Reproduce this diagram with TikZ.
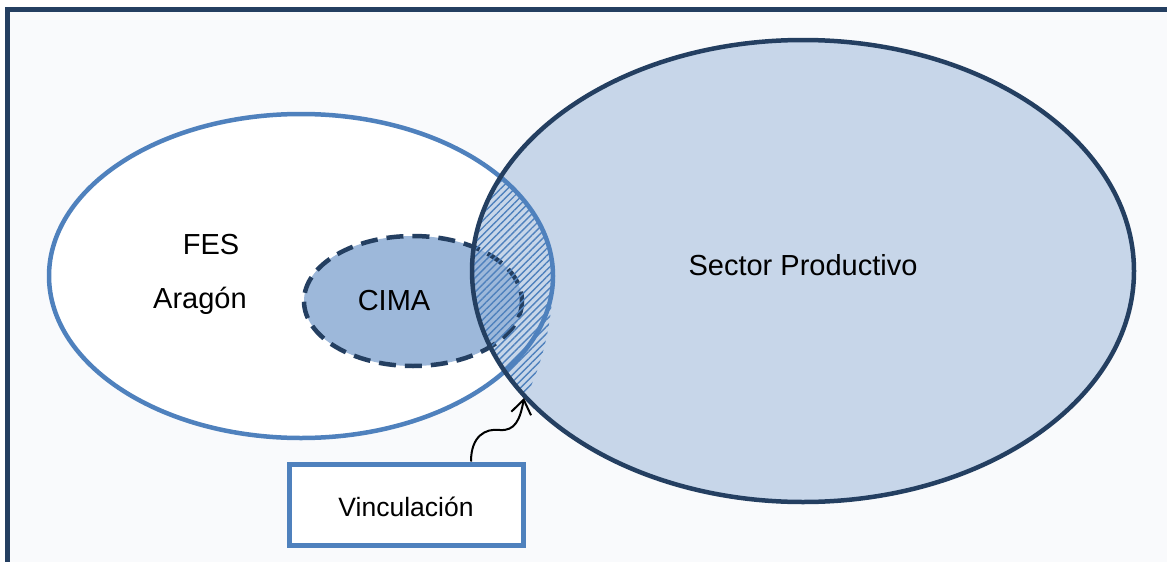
\documentclass[tikz,border=0pt]{standalone}
\usepackage{fontspec}
\setmainfont{Liberation Sans}
\usetikzlibrary{arrows.meta,patterns.meta}
\definecolor{darkc}{HTML}{243F61}
\definecolor{bluec}{HTML}{4F81BD}
\definecolor{sectc}{HTML}{C7D6E9}
\definecolor{cimac}{HTML}{9DB8DA}
\definecolor{bgc}{HTML}{F9FAFC}
\begin{document}
\begin{tikzpicture}[x=1pt,y=-1pt,
  lbl/.style={inner sep=0pt, font=\fontsize{29}{34}\selectfont, text=black},
  vinbox/.style={draw=bluec, fill=white, line width=5pt, minimum width=234pt, minimum height=81pt, inner sep=0pt, text height=23pt, text depth=0pt, font=\fontsize{26.5}{31}\selectfont},
  fesline/.style={draw=bluec, line width=4.5pt},
  sectline/.style={draw=darkc, line width=4.5pt},
  cimastyle/.style={fill=cimac, draw=darkc, line width=4.5pt, dash pattern=on 17pt off 9pt},
  hatch/.style={pattern={Lines[angle=45,distance=5pt,line width=1.4pt]}, pattern color=bluec},
  arr/.style={draw=black, line width=2pt, -{Straight Barb[length=14pt,width=20pt]}}
]
\useasboundingbox (0,0) rectangle (1167,562);
\fill[white] (0,0) rectangle (1167,562);
\fill[bgc] (7.5,9.5) rectangle (1167,562);
\draw[darkc, line width=5pt] (7.5,566) -- (7.5,9.5) -- (1170,9.5);

% FES
\fill[white] (301,276) ellipse [x radius=252, y radius=162];
% Sector fill
\fill[sectc] (803,271) ellipse [x radius=331, y radius=231];
% FES border
\path[fesline] (301,276) ellipse [x radius=252, y radius=162];
% CIMA
\path[cimastyle] (413,301) ellipse [x radius=109, y radius=65];
% hatch
\begin{scope}
  \clip (803,271) ellipse [x radius=331, y radius=231];
  \fill[hatch] (440,100) -- (440,400) -- (524,400) .. controls (538,375) and (553,330) .. (553,276) arc[start angle=0, end angle=-80, x radius=252, y radius=162] -- cycle;
\end{scope}
% Sector border
\path[sectline] (803,271) ellipse [x radius=331, y radius=231];

\node[lbl, anchor=base] (fes) at (211,254) {FES};
\node[lbl, anchor=base] (aragon) at (200,308) {Aragón};
\node[lbl, anchor=base] (cima) at (394,310) {CIMA};
\node[lbl, anchor=base] (sector) at (803,275) {Sector Productivo};

\node[vinbox] (vin) at (406,504.5) {Vinculación};
\coordinate (tip) at (524,398);
\draw[arr] ([xshift=65pt]vin.north) .. controls +(0,-25) and (485,428) .. (500,430) .. controls (515,431) and (520,420) .. (tip);
\end{tikzpicture}
\end{document}
